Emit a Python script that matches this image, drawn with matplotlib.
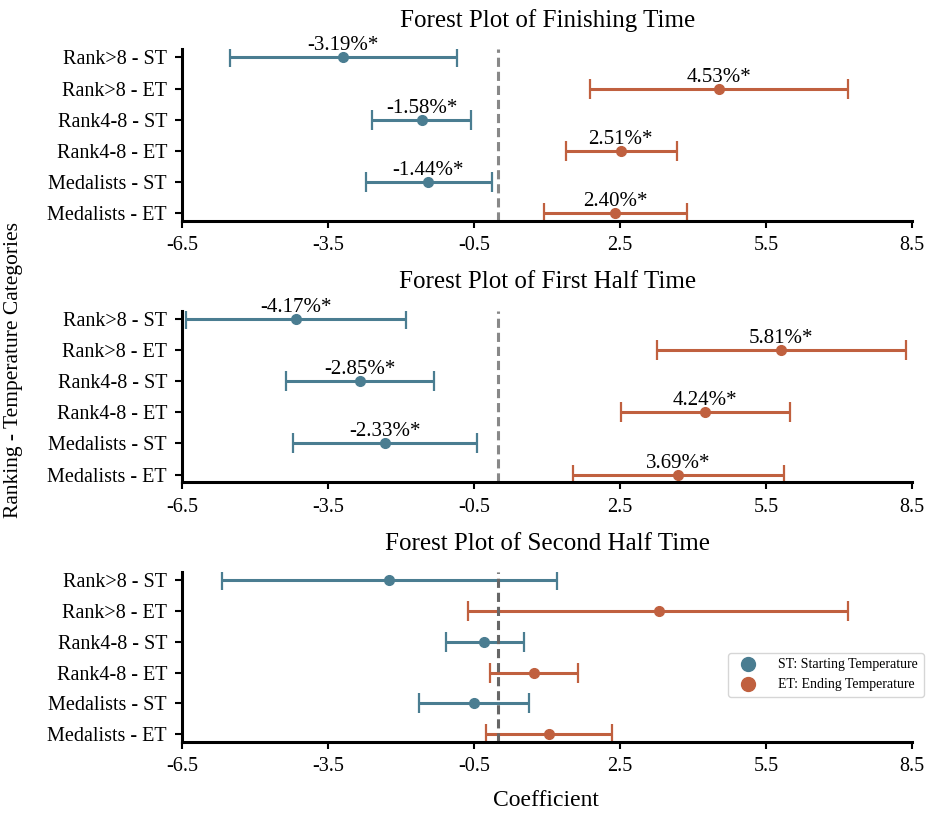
# -*- coding: utf-8 -*-

import matplotlib
matplotlib.use('Agg')
import matplotlib.pyplot as plt
from matplotlib.lines import Line2D
import numpy as np

plt.rcParams['font.family'] = ['Liberation Serif', 'DejaVu Serif']

# categories listed top to bottom
categories = ['Rank>8 - ST', 'Rank>8 - ET', 'Rank4-8 - ST',
              'Rank4-8 - ET', 'Medalists - ST', 'Medalists - ET']
titles = ['Forest Plot of Finishing Time', 'Forest Plot of First Half Time',
          'Forest Plot of Second Half Time']

# finishing time
fin_est = [-3.19, 4.53, -1.58, 2.51, -1.44, 2.40]
fin_low = [-5.52, 1.88, -2.59, 1.38, -2.73, 0.93]
fin_up = [-0.85, 7.19, -0.57, 3.66, -0.14, 3.88]
fin_sig = [True, True, True, True, True, True]

# first half time
first_est = [-4.17, 5.81, -2.85, 4.24, -2.33, 3.69]
first_low = [-6.42, 3.26, -4.37, 2.51, -4.22, 1.53]
first_up = [-1.91, 8.38, -1.33, 5.99, -0.44, 5.87]
first_sig = [True, True, True, True, True, True]

# second half time
second_est = [-2.25, 3.29, -0.29, 0.73, -0.51, 1.04]
second_low = [-5.69, -0.62, -1.08, -0.18, -1.64, -0.25]
second_up = [1.21, 7.18, 0.52, 1.64, 0.62, 2.33]
second_sig = [False, False, False, False, False, False]

xticks = [-6.5, -3.5, -0.5, 2.5, 5.5, 8.5]

c_st = '#4a7d91'
c_et = '#c0603f'

fig = plt.figure(figsize=(9.44, 8.25), dpi=100)

boxes = [[0.1931, 0.7325, 0.773, 0.2081],
         [0.1931, 0.4154, 0.773, 0.2081],
         [0.1931, 0.1010, 0.773, 0.2057]]
data = [(fin_est, fin_low, fin_up, fin_sig),
        (first_est, first_low, first_up, first_sig),
        (second_est, second_low, second_up, second_sig)]
vcolors = ['#888888', '#888888', '#666666']

ypos = np.arange(len(categories))[::-1]

for i in range(3):
    ax = fig.add_axes(boxes[i])
    est, low, up, sig = data[i]
    est = np.array(est)
    err = np.vstack([est - np.array(low), np.array(up) - est])
    for j in range(len(categories)):
        col = c_st if categories[j].endswith('ST') else c_et
        ax.errorbar(est[j], ypos[j], xerr=err[:, j:j + 1], fmt='o', color=col,
                    ecolor=col, elinewidth=2.2, capsize=7, capthick=1.6,
                    markersize=7)
        if sig[j]:
            ax.annotate('%.2f%%*' % est[j], (est[j], ypos[j]), xytext=(0, 5),
                        textcoords='offset points', ha='center', va='baseline',
                        fontsize=15)
    ax.axvline(0, color=vcolors[i], linewidth=2.2, dashes=(3, 1.6))
    ax.set_xlim(-6.5, 8.5)
    ax.set_ylim(-0.25, 5.27)
    ax.set_xticks(xticks)
    ax.set_xticklabels([str(t) for t in xticks])
    ax.set_yticks(ypos)
    ax.set_yticklabels(categories)
    ax.tick_params(axis='both', labelsize=14.5, width=1.5, length=5, pad=6)
    ax.spines['top'].set_visible(False)
    ax.spines['right'].set_visible(False)
    ax.spines['left'].set_linewidth(2.2)
    ax.spines['bottom'].set_linewidth(2.2)
    ax.set_title(titles[i], fontsize=18, pad=16)
    if i == 2:
        handles = [Line2D([], [], marker='o', color=c_st, linestyle='', markersize=10),
                   Line2D([], [], marker='o', color=c_et, linestyle='', markersize=10)]
        ax.legend(handles, ['ST: Starting Temperature', 'ET: Ending Temperature'],
                  loc='upper right', bbox_to_anchor=(1.016, 0.523), borderaxespad=0,
                  fontsize=10, handletextpad=1.2, edgecolor='#cccccc')

fig.text(0.014, 0.552, 'Ranking - Temperature Categories', rotation=90,
         ha='center', va='center', fontsize=15.5)
fig.text(0.578, 0.030, 'Coefficient', ha='center', va='center', fontsize=17)

plt.savefig('out.png', dpi=100)
plt.close()
